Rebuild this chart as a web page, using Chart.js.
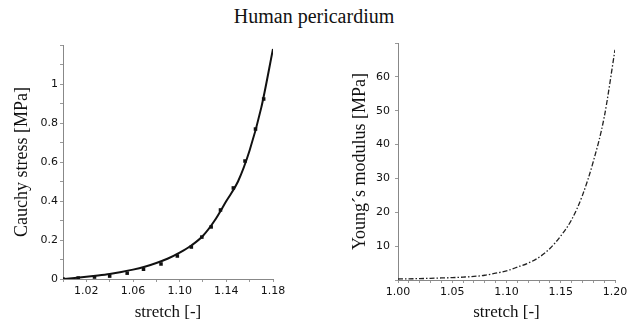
<!DOCTYPE html>
<html>
<head>
<meta charset="utf-8">
<script src="https://cdn.jsdelivr.net/npm/chart.js@4"></script>
<style>
  body { margin: 0; background: #fff; }
  #wrap { position: relative; width: 628px; height: 323px; overflow: hidden; }
  #title { position: absolute; left: 0; top: 5px; width: 628px; text-align: center;
           font: 20px "Liberation Serif", serif; color: #111; }
  #c1 { position: absolute; left: 0; top: 30px; }
  #c2 { position: absolute; left: 318px; top: 30px; }
</style>
</head>
<body>
<div id="wrap">
  <div id="title">Human pericardium</div>
  <canvas id="c1" width="300" height="293"></canvas>
  <canvas id="c2" width="310" height="293"></canvas>
</div>
<script>
// left panel: fitted curve + measured points
const stretchFit = [1.00, 1.01, 1.02, 1.03, 1.04, 1.05, 1.06, 1.07, 1.08, 1.09,
                    1.10, 1.11, 1.12, 1.13, 1.14, 1.15, 1.16, 1.17, 1.18];
const stressFit = [0, 0.005, 0.011, 0.018, 0.026, 0.036, 0.048, 0.063, 0.082, 0.105,
                   0.135, 0.172, 0.222, 0.30, 0.40, 0.50, 0.66, 0.88, 1.18];
const stretchData = [1.000, 1.013, 1.027, 1.040, 1.055, 1.069, 1.084, 1.098, 1.110,
                     1.119, 1.127, 1.135, 1.146, 1.156, 1.165, 1.172];
const stressData = [0, 0.005, 0.01, 0.015, 0.03, 0.05, 0.077, 0.118, 0.164,
                    0.215, 0.267, 0.354, 0.467, 0.605, 0.769, 0.923];
const stressTicks = ['0', '0.2', '0.4', '0.6', '0.8', '1'];
const stretchTicksL = ['1.02', '1.06', '1.10', '1.14', '1.18'];

// right panel: Young's modulus
const stretchE = [1.00, 1.01, 1.02, 1.03, 1.04, 1.05, 1.06, 1.07, 1.08, 1.09, 1.10,
                  1.11, 1.12, 1.13, 1.14, 1.15, 1.16, 1.17, 1.18, 1.19, 1.20];
const youngE = [0.3, 0.35, 0.4, 0.5, 0.6, 0.7, 0.85, 1.05, 1.4, 2.0, 2.7,
                3.8, 5.0, 6.7, 9.3, 13.0, 17.8, 25, 35, 48, 68];
const youngTicks = ['10', '20', '30', '40', '50', '60'];
const stretchTicksR = ['1.00', '1.05', '1.10', '1.15', '1.20'];

const tickFont = { family: 'DejaVu Sans', size: 11 };
const titleFont = { family: 'Liberation Serif', size: 18 };

function pts(xs, ys) {
    return xs.map((x, i) => ({ x: x, y: ys[i] }));
}

function xAxis(min, max, step, labels, h) {
    return {
        type: 'linear', min: min, max: max,
        grid: { drawOnChartArea: false, tickLength: 3, color: '#999' },
        border: { color: '#888', width: 1 },
        ticks: {
            stepSize: step, autoSkip: false, maxRotation: 0, padding: 3,
            font: tickFont, color: '#111',
            callback: v => labels.includes(v.toFixed(2)) ? v.toFixed(2) : ''
        },
        title: { display: true, text: 'stretch [-]', font: { family: 'Liberation Serif', size: 17 },
                 color: '#111', padding: { top: 0, bottom: 0 } },
        afterFit: s => { s.height = h; s.paddingLeft = 0; s.paddingRight = 0; }
    };
}

function yAxis(max, step, labels, text, w, tpad, pad) {
    return {
        type: 'linear', min: 0, max: max,
        grid: { drawOnChartArea: false, tickLength: 3, color: '#999' },
        border: { color: '#888', width: 1 },
        ticks: {
            stepSize: step, autoSkip: false, padding: pad,
            font: tickFont, color: '#111',
            callback: v => {
                const s = String(Math.round(v * 10) / 10);
                return labels.includes(s) ? s : '';
            }
        },
        title: { display: true, text: text, font: titleFont, color: '#111',
                 padding: { top: tpad, bottom: 0 } },
        afterFit: s => { s.width = w; s.paddingTop = 0; s.paddingBottom = 0; }
    };
}

const common = {
    responsive: false,
    animation: false,
    plugins: { legend: { display: false }, tooltip: { enabled: false } }
};

new Chart(document.getElementById('c1'), {
    type: 'scatter',
    data: {
        datasets: [{
            data: pts(stretchFit, stressFit),
            showLine: true, borderColor: '#111', borderWidth: 2,
            pointRadius: 0, cubicInterpolationMode: 'monotone'
        }, {
            data: pts(stretchData, stressData),
            pointStyle: 'rect', pointRadius: 2.5,
            backgroundColor: '#111', borderColor: '#111', borderWidth: 0
        }]
    },
    options: Object.assign({}, common, {
        layout: { padding: { left: 0, top: 15, right: 27, bottom: 0 } },
        scales: {
            x: xAxis(1.00, 1.18, 0.02, stretchTicksL, 44),
            y: yAxis(1.2, 0.1, stressTicks, 'Cauchy stress [MPa]', 63, 11, 2)
        }
    })
});

new Chart(document.getElementById('c2'), {
    type: 'scatter',
    data: {
        datasets: [{
            data: pts(stretchE, youngE),
            showLine: true, borderColor: '#222', borderWidth: 1.3,
            borderDash: [5, 2, 1.5, 2],
            pointRadius: 0, cubicInterpolationMode: 'monotone'
        }]
    },
    options: Object.assign({}, common, {
        layout: { padding: { left: 0, top: 13, right: 13, bottom: 0 } },
        scales: {
            x: xAxis(1.00, 1.20, 0.01, stretchTicksR, 43),
            y: yAxis(70, 10, youngTicks, 'Young\u00b4s modulus [MPa]', 80, 31, 5)
        }
    })
});
</script>
</body>
</html>
